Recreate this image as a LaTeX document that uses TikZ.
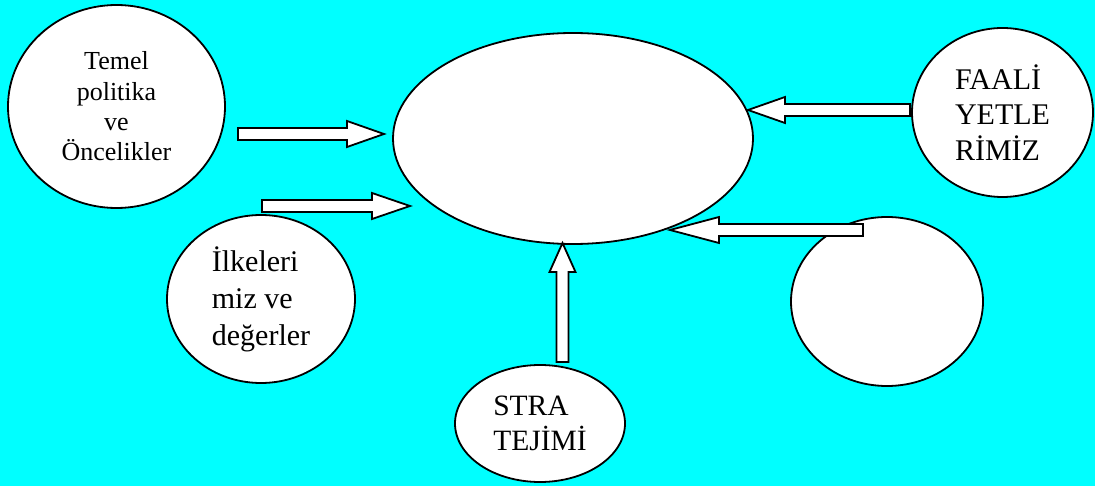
\documentclass[tikz,border=0pt]{standalone}
\usepackage{fontspec}
\setmainfont{Liberation Serif}
\usetikzlibrary{shapes.geometric,calc}
\definecolor{bgcyan}{RGB}{0,255,255}
\tikzset{
  oval/.style={ellipse, draw, line width=1.8pt, fill=white, inner sep=0pt},
  arrowbody/.style={draw, fill=white, line width=1.8pt, line join=miter},
}
% block arrow: [head length] tail, tip
\newcommand{\blockarrow}[3][37]{%
  \draw[arrowbody] let \p1=($(#3)-(#2)$), \n1={veclen(\x1,\y1)}, \n2={atan2(\y1,\x1)} in
    [shift={(#2)}, rotate=\n2]
    (0pt,-6pt) -- ({\n1-#1pt},-6pt) -- ({\n1-#1pt},-13pt) -- ({\n1*1pt},0pt)
    -- ({\n1-#1pt},13pt) -- ({\n1-#1pt},6pt) -- (0pt,6pt) -- cycle;
}
\begin{document}
\begin{tikzpicture}[x=1pt, y=-1pt]
\fill[bgcyan] (0,0) rectangle (1095,486);
\useasboundingbox (0,0) rectangle (1095,486);
\node[oval, minimum width=217pt, minimum height=203pt, align=center,
  font=\fontsize{26}{30.3}\selectfont] (temel) at (116.5,106.5) {Temel\\politika\\ve\\Öncelikler};
\node[oval, minimum width=360pt, minimum height=211pt] (merkez) at (573,138.5) {};
\node[oval, minimum width=181pt, minimum height=169pt, align=left,
  font=\fontsize{30}{35.5}\selectfont] (faal) at (1002.5,112.5) {FAALİ\\YETLE\\RİMİZ};
\node[oval, minimum width=192pt, minimum height=169pt] (bos) at (887,301.5) {};
\node[oval, minimum width=188pt, minimum height=168pt, align=left,
  font=\fontsize{30}{37}\selectfont] (ilke) at (261,299) {İlkeleri\\miz ve\\değerler};
\node[oval, minimum width=170pt, minimum height=117pt, align=left,
  font=\fontsize{29.5}{35}\selectfont] (strateji) at (540,423.5) {STRA\\TEJİMİ};
\coordinate (a1s) at (238,134);   \coordinate (a1e) at (384,134);
\coordinate (a2s) at (262,206);   \coordinate (a2e) at (410,206);
\coordinate (a3s) at (562.5,362); \coordinate (a3e) at (562.5,243);
\coordinate (a4s) at (863,230);   \coordinate (a4e) at (670,230);
\coordinate (a5s) at (910,110);   \coordinate (a5e) at (748,110);
\blockarrow{a1s}{a1e}
\blockarrow[38]{a2s}{a2e}
\blockarrow[29]{a3s}{a3e}
\blockarrow[49]{a4s}{a4e}
\blockarrow{a5s}{a5e}
\end{tikzpicture}
\end{document}
